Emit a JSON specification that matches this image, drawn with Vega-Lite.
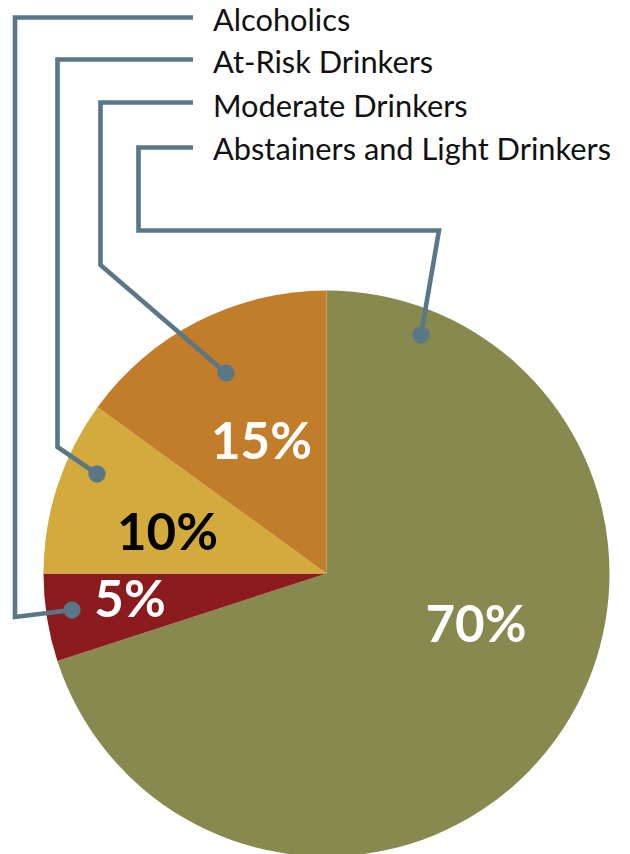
{
  "$schema": "https://vega.github.io/schema/vega-lite/v6.json",
  "width": 630,
  "height": 854,
  "autosize": "none",
  "padding": 0,
  "background": "white",
  "config": {"view": {"stroke": null}},
  "datasets": {
    "slices": [
      {"group": "Abstainers and Light Drinkers", "pct": 70, "ord": 1},
      {"group": "Alcoholics", "pct": 5, "ord": 2},
      {"group": "At-Risk Drinkers", "pct": 10, "ord": 3},
      {"group": "Moderate Drinkers", "pct": 15, "ord": 4}
    ],
    "lines": [
      {"series": "Alcoholics", "i": 1, "x": -47.17, "y": 196.47},
      {"series": "Alcoholics", "i": 2, "x": -110.07, "y": 196.47},
      {"series": "Alcoholics", "i": 3, "x": -110.07, "y": -15.37},
      {"series": "Alcoholics", "i": 4, "x": -89.93, "y": -12.9},
      {"series": "At-Risk Drinkers", "i": 1, "x": -47.17, "y": 181.63},
      {"series": "At-Risk Drinkers", "i": 2, "x": -95.05, "y": 181.63},
      {"series": "At-Risk Drinkers", "i": 3, "x": -95.05, "y": 44.7},
      {"series": "At-Risk Drinkers", "i": 4, "x": -81.1, "y": 35.16},
      {"series": "Moderate Drinkers", "i": 1, "x": -47.17, "y": 166.43},
      {"series": "Moderate Drinkers", "i": 2, "x": -79.86, "y": 166.43},
      {"series": "Moderate Drinkers", "i": 3, "x": -79.86, "y": 109.01},
      {"series": "Moderate Drinkers", "i": 4, "x": -35.51, "y": 70.85},
      {"series": "Abstainers and Light Drinkers", "i": 1, "x": -47.17, "y": 150.53},
      {"series": "Abstainers and Light Drinkers", "i": 2, "x": -66.43, "y": 150.53},
      {"series": "Abstainers and Light Drinkers", "i": 3, "x": -66.43, "y": 121.2},
      {"series": "Abstainers and Light Drinkers", "i": 4, "x": 39.75, "y": 121.2},
      {"series": "Abstainers and Light Drinkers", "i": 5, "x": 33.39, "y": 84.28}
    ],
    "dots": [
      {"series": "Alcoholics", "x": -89.93, "y": -12.9},
      {"series": "At-Risk Drinkers", "x": -81.1, "y": 35.16},
      {"series": "Moderate Drinkers", "x": -35.51, "y": 70.85},
      {"series": "Abstainers and Light Drinkers", "x": 33.39, "y": 84.28}
    ],
    "labels": [
      {"label": "Alcoholics", "x": -40.11, "y": 191.52},
      {"label": "At-Risk Drinkers", "x": -40.11, "y": 176.68},
      {"label": "Moderate Drinkers", "x": -40.11, "y": 161.48},
      {"label": "Abstainers and Light Drinkers", "x": -40.11, "y": 146.11}
    ],
    "pcts": [
      {"text": "70%", "x": 52.83, "y": -24.2, "tone": "light"},
      {"text": "15%", "x": -22.97, "y": 40.46, "tone": "light"},
      {"text": "10%", "x": -56.18, "y": 8.3, "tone": "dark"},
      {"text": "5%", "x": -69.43, "y": -15.37, "tone": "light"}
    ]
  },
  "layer": [
    {
      "data": {"name": "slices"},
      "mark": {"type": "arc", "outerRadius": 283, "stroke": null},
      "encoding": {
        "x": {"datum": 0, "type": "quantitative", "scale": {"domain": [-115.37, 107.24], "nice": false, "zero": false}, "axis": null},
        "y": {"datum": 0, "type": "quantitative", "scale": {"domain": [-99.12, 202.65], "nice": false, "zero": false}, "axis": null},
        "theta": {"field": "pct", "type": "quantitative", "stack": true},
        "order": {"field": "ord", "type": "quantitative"},
        "color": {
          "field": "group",
          "type": "nominal",
          "legend": null,
          "scale": {
            "domain": ["Abstainers and Light Drinkers", "Alcoholics", "At-Risk Drinkers", "Moderate Drinkers"],
            "range": ["#87894f", "#8b1b1c", "#d3ab3c", "#c27d2b"]
          }
        }
      }
    },
    {
      "data": {"name": "lines"},
      "mark": {"type": "line", "color": "#597787", "strokeWidth": 4.6, "strokeJoin": "miter", "strokeCap": "butt"},
      "encoding": {
        "x": {"field": "x", "type": "quantitative", "scale": {"domain": [-115.37, 107.24], "nice": false, "zero": false}, "axis": null},
        "y": {"field": "y", "type": "quantitative", "scale": {"domain": [-99.12, 202.65], "nice": false, "zero": false}, "axis": null},
        "detail": {"field": "series", "type": "nominal"},
        "order": {"field": "i", "type": "quantitative"}
      }
    },
    {
      "data": {"name": "dots"},
      "mark": {"type": "circle", "color": "#597787", "opacity": 1, "size": 300},
      "encoding": {
        "x": {"field": "x", "type": "quantitative", "axis": null},
        "y": {"field": "y", "type": "quantitative", "axis": null}
      }
    },
    {
      "data": {"name": "labels"},
      "mark": {"type": "text", "align": "left", "baseline": "alphabetic", "font": "Lato", "fontSize": 30.8, "color": "#111111"},
      "encoding": {
        "x": {"field": "x", "type": "quantitative", "axis": null},
        "y": {"field": "y", "type": "quantitative", "axis": null},
        "text": {"field": "label", "type": "nominal"}
      }
    },
    {
      "data": {"name": "pcts"},
      "mark": {"type": "text", "align": "center", "baseline": "alphabetic", "font": "Lato", "fontWeight": "bold", "fontSize": 51},
      "encoding": {
        "x": {"field": "x", "type": "quantitative", "axis": null},
        "y": {"field": "y", "type": "quantitative", "axis": null},
        "text": {"field": "text", "type": "nominal"},
        "color": {
          "field": "tone",
          "type": "nominal",
          "legend": null,
          "scale": {"domain": ["light", "dark"], "range": ["#ffffff", "#000000"]}
        }
      }
    }
  ],
  "resolve": {"scale": {"color": "independent"}}
}
